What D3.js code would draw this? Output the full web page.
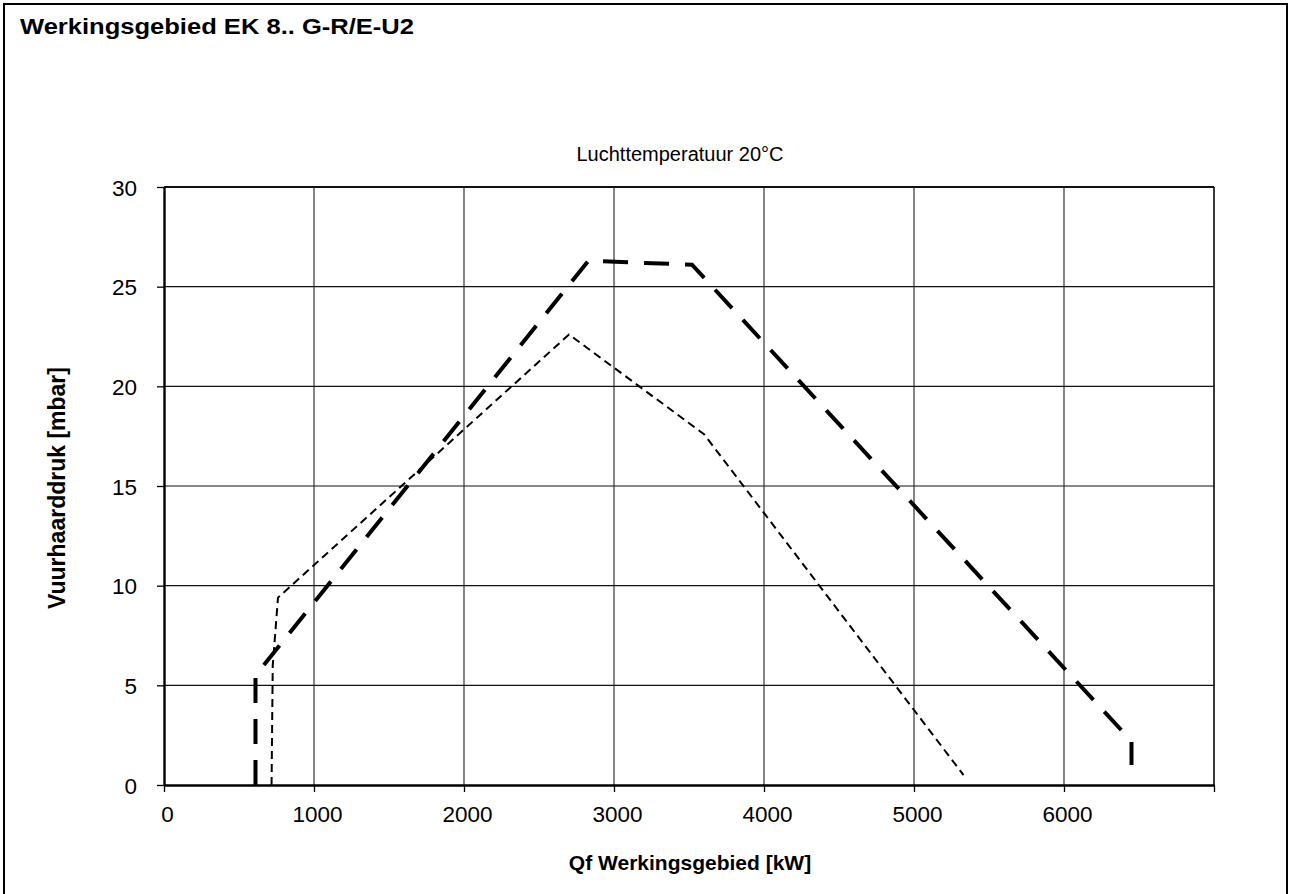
<!DOCTYPE html>
<html>
<head>
<meta charset="utf-8">
<script src="https://cdn.jsdelivr.net/npm/d3@7"></script>
<style>
  body { margin: 0; background: #fff; }
  svg text { font-family: "Liberation Sans", Arial, sans-serif; fill: #000; }
</style>
</head>
<body>
<div id="chart"></div>
<script>
// chart data
var xTicks = [0, 1000, 2000, 3000, 4000, 5000, 6000, 7000];
var xTickLabels = ["0", "1000", "2000", "3000", "4000", "5000", "6000", ""];
var yTicks = [0, 5, 10, 15, 20, 25, 30];

// heavy long-dash curve
var heavyQ = [610, 610, 2830, 3520, 6450, 6450];
var heavyP = [0, 5.5, 26.3, 26.1, 2.2, 1.0];
// thin short-dash curve
var thinQ = [717, 725, 760, 2700, 3600, 5330];
var thinP = [0, 6.0, 9.4, 22.6, 17.6, 0.5];

var svgWidth = 1291, svgHeight = 894;
var margin = { top: 187, right: 77, bottom: 109, left: 164 };
var width = svgWidth - margin.left - margin.right;
var height = svgHeight - margin.top - margin.bottom;

var svg = d3.select("#chart").append("svg")
  .attr("width", svgWidth)
  .attr("height", svgHeight);

// outer frame
svg.append("rect")
  .attr("x", 4).attr("y", 4)
  .attr("width", 1283).attr("height", 900)
  .attr("fill", "none").attr("stroke", "#000").attr("stroke-width", 2);

svg.append("text")
  .attr("x", 20).attr("y", 34)
  .attr("font-size", 22).attr("font-weight", "bold")
  .attr("textLength", 394).attr("lengthAdjust", "spacingAndGlyphs")
  .text("Werkingsgebied EK 8.. G-R/E-U2");

svg.append("text")
  .attr("x", 680).attr("y", 161)
  .attr("text-anchor", "middle")
  .attr("font-size", 20)
  .text("Luchttemperatuur 20°C");

var x = d3.scaleLinear().domain([0, 7000]).range([0, width]);
var y = d3.scaleLinear().domain([0, 30]).range([height, 0]);

var chartGroup = svg.append("g")
  .attr("transform", `translate(${margin.left}, ${margin.top})`);

// gridlines
chartGroup.append("g")
  .selectAll("line")
  .data(yTicks.slice(1))
  .enter().append("line")
  .attr("x1", 0).attr("x2", width)
  .attr("y1", d => y(d)).attr("y2", d => y(d))
  .attr("stroke", "#111").attr("stroke-width", d => d === 30 ? 1.8 : 1.2);

chartGroup.append("g")
  .selectAll("line")
  .data(xTicks.slice(1))
  .enter().append("line")
  .attr("x1", d => x(d)).attr("x2", d => x(d))
  .attr("y1", 0).attr("y2", height)
  .attr("stroke", "#222").attr("stroke-width", d => d === 7000 ? 1.8 : 1.1);

// axes
var xAxis = d3.axisBottom(x).tickValues(xTicks)
  .tickFormat((d, i) => xTickLabels[i]).tickSizeInner(7).tickSizeOuter(0).tickPadding(14);
var yAxis = d3.axisLeft(y).tickValues(yTicks)
  .tickSizeInner(7).tickSizeOuter(0).tickPadding(20);

var gx = chartGroup.append("g")
  .attr("transform", `translate(0, ${height})`)
  .call(xAxis);
var gy = chartGroup.append("g").call(yAxis);

[gx, gy].forEach(function(g) {
  g.select(".domain").attr("stroke", "#000").attr("stroke-width", 2.4);
  g.selectAll(".tick line").attr("stroke", "#000").attr("stroke-width", 1.3);
  g.selectAll(".tick text")
    .attr("font-size", 22.5)
    .attr("font-family", "Liberation Sans, Arial, sans-serif")
    .attr("fill", "#000");
});
gx.selectAll(".tick text").attr("dx", 3);
gy.selectAll(".tick text").attr("dy", "0.36em");

// axis titles
svg.append("text")
  .attr("x", 690).attr("y", 870)
  .attr("text-anchor", "middle")
  .attr("font-size", 21).attr("font-weight", "bold")
  .text("Qf Werkingsgebied [kW]");

svg.append("text")
  .attr("transform", "translate(65, 488) rotate(-90)")
  .attr("text-anchor", "middle")
  .attr("font-size", 23).attr("font-weight", "bold")
  .text("Vuurhaarddruk [mbar]");

// curves
var line = d3.line()
  .x(d => x(d[0]))
  .y(d => y(d[1]));

chartGroup.append("path")
  .datum(heavyQ.map((q, i) => [q, heavyP[i]]))
  .attr("d", line)
  .attr("fill", "none").attr("stroke", "#000")
  .attr("stroke-width", 4).attr("stroke-dasharray", "25,16");

chartGroup.append("path")
  .datum(thinQ.map((q, i) => [q, thinP[i]]))
  .attr("d", line)
  .attr("fill", "none").attr("stroke", "#000")
  .attr("stroke-width", 2).attr("stroke-dasharray", "8,5");
</script>
</body>
</html>
